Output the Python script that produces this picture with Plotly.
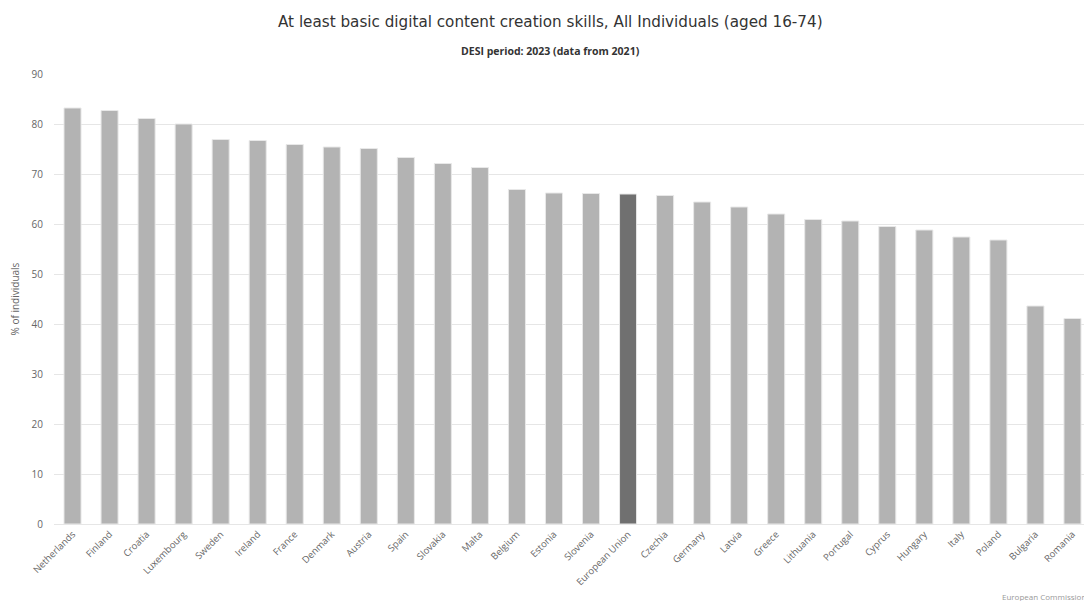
import plotly.graph_objects as go

countries = [
    "Netherlands", "Finland", "Croatia", "Luxembourg", "Sweden", "Ireland", "France",
    "Denmark", "Austria", "Spain", "Slovakia", "Malta", "Belgium", "Estonia", "Slovenia",
    "European Union", "Czechia", "Germany", "Latvia", "Greece", "Lithuania", "Portugal",
    "Cyprus", "Hungary", "Italy", "Poland", "Bulgaria", "Romania",
]
values = [
    83.2, 82.7, 81.1, 80.0, 76.9, 76.7, 75.9,
    75.4, 75.1, 73.3, 72.1, 71.3, 66.9, 66.2, 66.1,
    66.0, 65.7, 64.4, 63.4, 62.0, 60.9, 60.6,
    59.5, 58.8, 57.4, 56.8, 43.6, 41.1,
]
highlight = "European Union"

colors = ["#707070" if c == highlight else "#b3b3b3" for c in countries]

# page body adds 8px margin, so the figure is 8px smaller than the window
W, H = 1084, 593
L, R, T, B = 46, 1, 66, 77
mid = (W / 2 - L) / (W - L - R)  # paper x of the figure centre

fig = go.Figure()
fig.add_trace(go.Bar(
    x=countries, y=values,
    marker={"color": colors, "line": {"color": "#e8e8e8", "width": 1}},
    hovertemplate="%{x}: %{y:.1f}%<extra></extra>",
))

fig.update_layout(
    width=W, height=H,
    margin={"l": L, "r": R, "t": T, "b": B},
    paper_bgcolor="white", plot_bgcolor="white",
    bargap=0.54,
    showlegend=False,
    font={"family": "Open Sans", "color": "#666666", "size": 10},
)
fig.add_annotation(
    text="At least basic digital content creation skills, All Individuals (aged 16-74)",
    xref="paper", yref="paper", x=mid, y=1, yshift=52, showarrow=False,
    xanchor="center", yanchor="middle",
    font={"family": "DejaVu Sans", "size": 15.2, "color": "#333333"},
)
fig.add_annotation(
    text="<b>DESI period: 2023 (data from 2021)</b>",
    xref="paper", yref="paper", x=mid, y=1, yshift=23, showarrow=False,
    xanchor="center", yanchor="middle",
    font={"family": "Open Sans", "size": 10.5, "color": "#333333"},
)
fig.add_annotation(
    text="European Commission",
    xref="paper", yref="paper", x=1, y=0, yshift=-72, xshift=-3, showarrow=False,
    xanchor="right", yanchor="middle",
    font={"family": "Open Sans", "size": 8, "color": "#999999"},
)

fig.update_yaxes(
    range=[0, 90], dtick=10, showgrid=True, gridcolor="#e6e6e6", gridwidth=1,
    zeroline=False, showline=False, automargin=False,
    ticklabelstandoff=10,
    tickfont={"size": 10, "color": "#666666"},
    title={"text": "% of individuals", "standoff": 10,
           "font": {"size": 10, "color": "#666666"}},
)
fig.update_xaxes(
    tickangle=-45, showline=True, linecolor="#e6e6e6", linewidth=1,
    automargin=False,
    tickfont={"size": 9.5, "color": "#666666"},
    showgrid=False,
)

fig.write_html("out.html")
